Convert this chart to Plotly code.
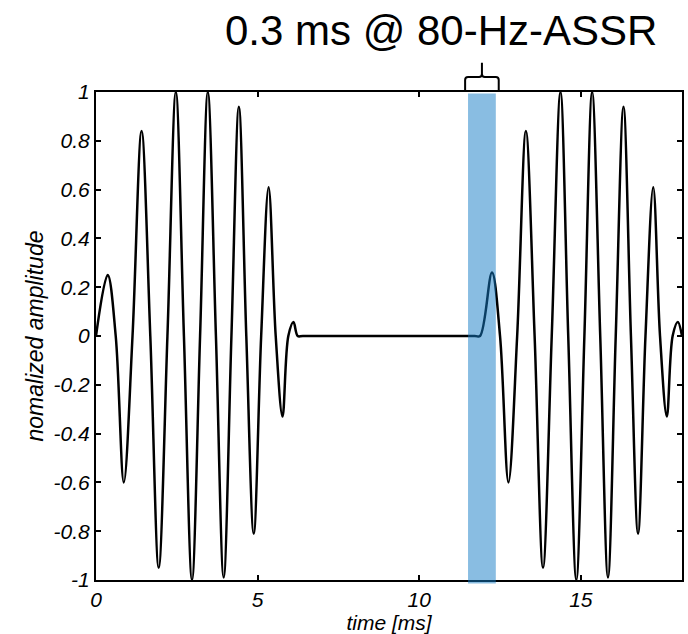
import plotly.graph_objects as go

# ---- data (time in ms, normalized amplitude) ----
burst1_t = [0.00, 0.36, 0.61, 0.86, 1.13, 1.41, 1.68, 1.94, 2.21, 2.47, 2.72, 2.97, 3.22,
            3.46, 3.71, 3.95, 4.19, 4.42, 4.65, 4.88, 5.11, 5.34, 5.56, 5.77, 5.95, 6.11, 6.24]
burst1_y = [0.00, 0.25, 0.00, -0.60, 0.00, 0.84, 0.00, -0.95, 0.00, 1.00, 0.00, -1.00, 0.00,
            1.00, 0.00, -0.99, 0.00, 0.94, 0.00, -0.81, 0.00, 0.61, 0.00, -0.33, 0.00, 0.057, 0.00]

silence_t = [6.40, 11.72]
silence_y = [0.00, 0.00]

burst2_t = [11.88, 12.25, 12.50, 12.76, 13.03, 13.30, 13.57, 13.83, 14.10, 14.37, 14.61, 14.86, 15.11,
            15.35, 15.60, 15.84, 16.08, 16.32, 16.55, 16.77, 17.00, 17.24, 17.45, 17.66, 17.84, 18.00, 18.13]
burst2_y = [0.00, 0.26, 0.00, -0.60, 0.00, 0.84, 0.00, -0.95, 0.00, 1.00, 0.00, -1.00, 0.00,
            1.00, 0.00, -0.99, 0.00, 0.94, 0.00, -0.81, 0.00, 0.61, 0.00, -0.33, 0.00, 0.057, 0.00]

band_start = 11.51
band_end = 12.37

x_tickvals = [0, 5, 10, 15]
x_ticktext = ["0", "5", "10", "15"]
y_tickvals = [1, 0.8, 0.6, 0.4, 0.2, 0, -0.2, -0.4, -0.6, -0.8, -1]
y_ticktext = ["1", "0.8", "0.6", "0.4", "0.2", "0", "-0.2", "-0.4", "-0.6", "-0.8", "-1"]

title_text = "0.3 ms @ 80-Hz-ASSR"
x_title = "time [ms]"
y_title = "nomalized amplitude"

# ---- figure ----
t_all = burst1_t + silence_t + burst2_t
y_all = burst1_y + silence_y + burst2_y

font_family = "Liberation Sans, Arial, Helvetica, sans-serif"

fig = go.Figure()
fig.add_trace(go.Scatter(
    x=t_all, y=y_all, mode="lines",
    line=dict(color="black", width=2.5, shape="spline", smoothing=1.0),
    hoverinfo="skip", showlegend=False,
))

# highlighted band (drawn on top, semi-transparent)
fig.add_shape(type="rect", xref="x", yref="paper",
              x0=band_start, x1=band_end, y0=-0.007, y1=0.997,
              fillcolor="rgb(19,123,197)", opacity=0.5, line_width=0, layer="above")

# curly brace over the band
pad = 0.09
bl, br = band_start - pad, band_end + pad
bm = (bl + br) / 2
c = 0.09
yb, yh, yc, yt = 1.002, 1.0307, 1.0369, 1.06
path = (f"M {bl},{yb} L {bl},{yh - 0.006} Q {bl},{yh} {bl + c},{yh} "
        f"L {bm - c},{yh} Q {bm},{yh} {bm},{yc} L {bm},{yt} "
        f"M {bm},{yc} Q {bm},{yh} {bm + c},{yh} L {br - c},{yh} "
        f"Q {br},{yh} {br},{yh - 0.006} L {br},{yb}")
fig.add_shape(type="path", xref="x", yref="paper", path=path,
              line=dict(color="black", width=2), layer="above")

fig.add_annotation(text=title_text, xref="paper", yref="paper",
                   x=0.588, y=1.127, xanchor="center", yanchor="middle",
                   showarrow=False, font=dict(family=font_family, size=42, color="black"))

axis_common = dict(
    showline=True, linecolor="black", linewidth=2, mirror="ticks",
    ticks="inside", ticklen=5, tickwidth=1.5, tickcolor="black",
    showgrid=False, zeroline=False,
    tickfont=dict(family=font_family, size=21, color="black", style="italic"),
)

fig.update_xaxes(range=[0, 18.13], tickvals=x_tickvals, ticktext=x_ticktext,
                 title=dict(text=x_title, standoff=0,
                            font=dict(family=font_family, size=21, color="black", style="italic")),
                 **axis_common)
fig.update_yaxes(range=[-1, 1], tickvals=y_tickvals, ticktext=y_ticktext,
                 title=dict(text=y_title, standoff=4,
                            font=dict(family=font_family, size=23, color="black", style="italic")),
                 **axis_common)

fig.update_layout(
    width=688, height=634,
    margin=dict(l=96, r=4, t=92, b=54),
    plot_bgcolor="white", paper_bgcolor="white",
)

fig.write_html("out.html", config={"displayModeBar": False},
               post_script="document.body.style.margin='0';")
